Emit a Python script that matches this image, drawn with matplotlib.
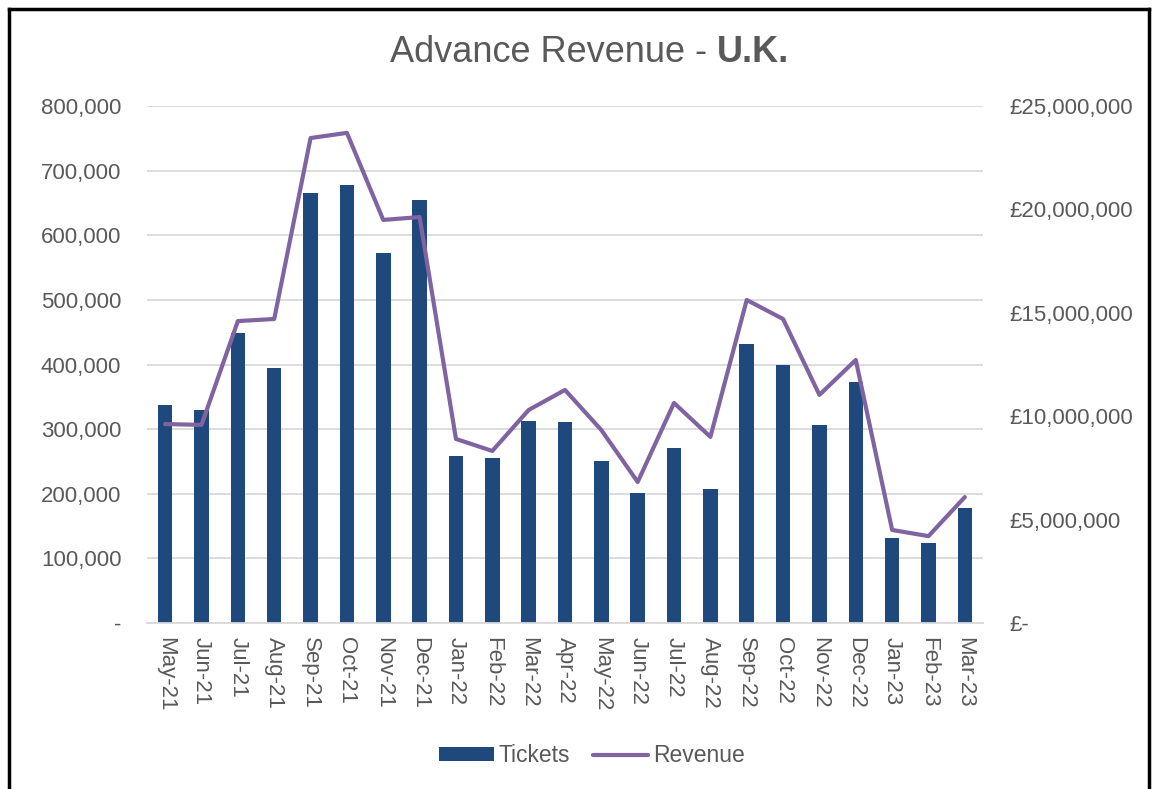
import matplotlib
matplotlib.use("Agg")
import matplotlib.pyplot as plt
from matplotlib.lines import Line2D
from matplotlib.patches import Patch
import numpy as np

months = ["May-21", "Jun-21", "Jul-21", "Aug-21", "Sep-21", "Oct-21", "Nov-21", "Dec-21",
          "Jan-22", "Feb-22", "Mar-22", "Apr-22", "May-22", "Jun-22", "Jul-22", "Aug-22",
          "Sep-22", "Oct-22", "Nov-22", "Dec-22", "Jan-23", "Feb-23", "Mar-23"]
tickets = [338000, 330000, 449000, 395000, 666000, 677000, 572000, 655000,
           258000, 255000, 313000, 311000, 250000, 201000, 271000, 207000,
           432000, 400000, 306000, 373000, 131000, 124000, 178000]
revenue = [9620000, 9580000, 14600000, 14700000, 23450000, 23700000, 19490000, 19630000,
           8900000, 8320000, 10300000, 11270000, 9330000, 6820000, 10640000, 9000000,
           15620000, 14700000, 11030000, 12720000, 4500000, 4200000, 6090000]
left_ticks = [0, 100000, 200000, 300000, 400000, 500000, 600000, 700000, 800000]
right_ticks = [0, 5000000, 10000000, 15000000, 20000000, 25000000]

plt.rcParams['font.family'] = ['Liberation Sans', 'DejaVu Sans']
txt = "#595959"
bar_c = "#1F497D"
line_c = "#8064A2"
fs = 16

fig = plt.figure(figsize=(11.54, 7.89), dpi=100)
ax = fig.add_axes([147/1154, 1-623/789, (983-147)/1154, (623-106)/789])
ax2 = ax.twinx()

x = np.arange(len(months))
ax.bar(x, tickets, width=0.4, color=bar_c, zorder=2)
ax2.plot(x, revenue, color=line_c, lw=3, zorder=3, solid_joinstyle='round',
         solid_capstyle='round')

ax.set_xlim(-0.5, len(months)-0.5)
ax.set_ylim(0, 800000)
ax2.set_ylim(0, 25000000)
ax.set_yticks(left_ticks)
ax.set_yticklabels(["-" if v == 0 else f"{v:,}" for v in left_ticks])
ax2.set_yticks(right_ticks)
ax2.set_yticklabels(["£-" if v == 0 else f"£{v:,}" for v in right_ticks])
ax.set_xticks(x)
ax.set_xticklabels(months, rotation=-90)

ax.grid(axis='y', color="#D9D9D9", lw=1.3, zorder=0)
ax.set_axisbelow(True)
for a in (ax, ax2):
    for s in a.spines.values():
        s.set_visible(False)
    a.tick_params(length=0, labelsize=fs, colors=txt)
ax.spines['bottom'].set_visible(True)
ax.spines['bottom'].set_color("#D9D9D9")
ax.spines['bottom'].set_linewidth(1.3)
ax.tick_params(axis='y', pad=18.5)
ax2.tick_params(axis='y', pad=19)
ax.tick_params(axis='x', pad=10)

fig.text(717/1154, 1-53/789, "Advance Revenue - ", ha='right', va='center', fontsize=26, color=txt)
fig.text(717/1154, 1-53/789, "U.K.", ha='left', va='center', fontsize=26, color=txt, fontweight='bold')

handles = [Patch(facecolor=bar_c, label="Tickets"),
           Line2D([0], [0], color=line_c, lw=3, solid_capstyle='round', label="Revenue")]
fig.legend(handles=handles, loc='center', bbox_to_anchor=(592/1154, 1-756/789), ncol=2,
           frameon=False, fontsize=16.5, labelcolor=txt, handlelength=2.4,
           handleheight=0.55, columnspacing=1.0, handletextpad=0.2)

# outer frame
for xs, ys in [((9/1154, 9/1154), (-0.01, 1-9/789)),
               ((9/1154, 1149/1154), (1-9/789, 1-9/789)),
               ((1149/1154, 1149/1154), (-0.01, 1-9/789))]:
    fig.add_artist(Line2D(xs, ys, color='black', lw=2.5, transform=fig.transFigure))

fig.savefig("out.png", dpi=100)
